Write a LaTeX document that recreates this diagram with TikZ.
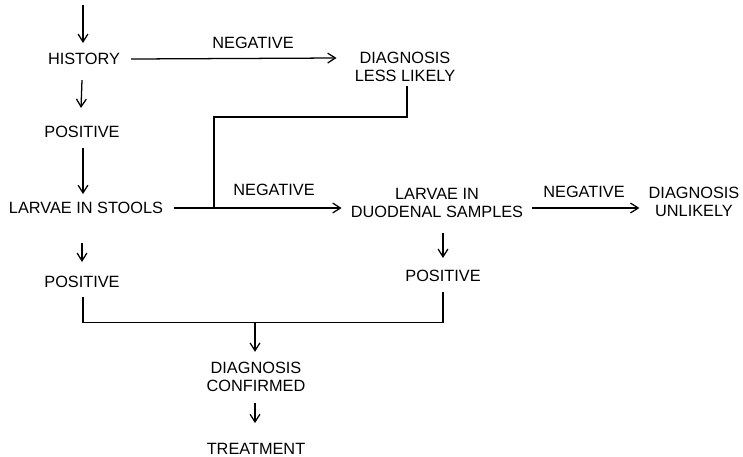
\documentclass[tikz,border=0pt]{standalone}
\usepackage{fontspec}
\setmainfont{Liberation Sans}
\usetikzlibrary{positioning,calc,arrows.meta}

\begin{document}
\begin{tikzpicture}[x=0.025cm,y=-0.025cm,
    lbl/.style={font=\fontsize{11.6}{13}\selectfont,inner sep=0pt,align=center},
    arr/.style={-{Straight Barb[length=5.5pt,width=7pt]},line width=0.9pt},
    ln/.style={line width=0.9pt}]
\useasboundingbox (0,0) rectangle (743,456);

% text nodes
\node[lbl] (history) at (84,59) {HISTORY};
\node[lbl] (dll) at (405,67) {DIAGNOSIS\\LESS LIKELY};
\node[lbl] (pos1) at (82,132) {POSITIVE};
\node[lbl] (stools) at (86,208) {LARVAE IN STOOLS};
\node[lbl] (duod) at (437,203) {LARVAE IN\\DUODENAL SAMPLES};
\node[lbl] (unlikely) at (694,202) {DIAGNOSIS\\UNLIKELY};
\node[lbl] (pos3) at (82,282) {POSITIVE};
\node[lbl] (pos2) at (443,276) {POSITIVE};
\node[lbl] (confirmed) at (256,377) {DIAGNOSIS\\CONFIRMED};
\node[lbl] (treatment) at (256,449) {TREATMENT};

\node[lbl] (neg1) at (253,43) {NEGATIVE};
\node[lbl] (neg2) at (274,190) {NEGATIVE};
\node[lbl] (neg3) at (584,192) {NEGATIVE};

\coordinate (start) at (83,5);
\coordinate (kink) at (214,117);
\coordinate (bar) at (255,322.5);

% connectors
\draw[arr] (start) -- ($(history.north)+(-1,-10)$);
\draw[arr] ($(history.east)+(11,0)$) -- ($(dll.west)+(-18,-9)$);
\draw[arr] ($(history.south)+(-2,15)$) -- ($(pos1.north)+(-1,-18)$);
\draw[arr] ($(pos1.south)+(1,10)$) -- ($(pos1.south)+(1,56)$);
\draw[arr] ($(stools.east)+(11,0)$) -- ($(duod.west)+(-9,5)$);
\draw[ln] ($(dll.south)+(2,4)$) |- (kink) -- (kink |- stools);
\draw[arr] ($(duod.east)+(9,5)$) -- ($(unlikely.west)+(-9,6)$);
\draw[arr] ($(stools.south)+(-4,29)$) -- ($(pos3.north)+(0,-14)$);
\draw[arr] ($(duod.south)+(6,15)$) -- ($(pos2.north)+(0,-12)$);
\draw[ln] ($(pos3.south)+(1,9)$) |- (bar) -| ($(pos2.south)+(0,10)$);
\draw[arr] (bar) -- ($(confirmed.north)+(-1,-10)$);
\draw[arr] ($(confirmed.south)+(-1,11)$) -- ($(treatment.north)+(-1,-20)$);
\end{tikzpicture}
\end{document}
